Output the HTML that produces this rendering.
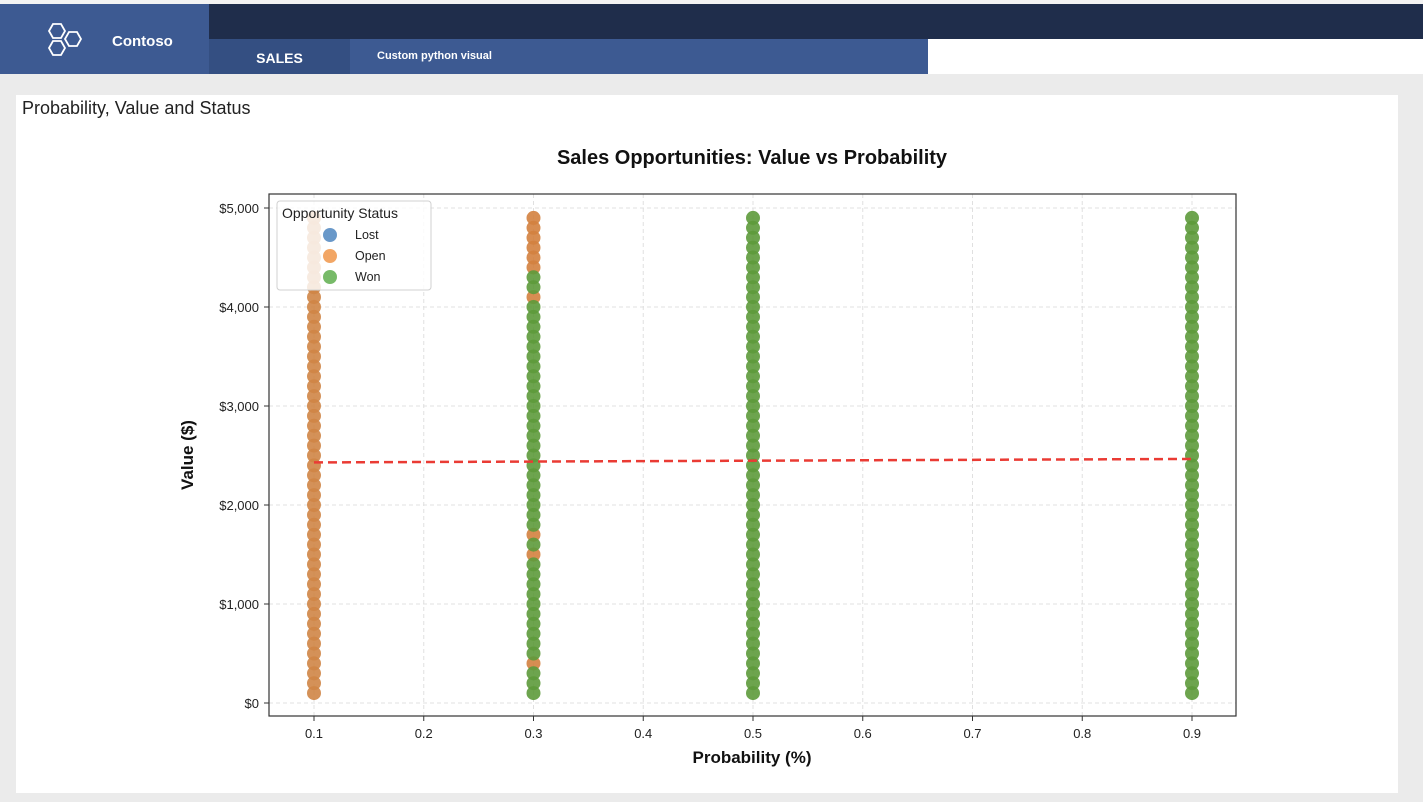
<!DOCTYPE html>
<html><head><meta charset="utf-8">
<style>
body{margin:0;width:1423px;height:802px;background:#ebebeb;font-family:"Liberation Sans",sans-serif;position:relative;overflow:hidden}
.abs{position:absolute}
</style></head><body>
<div class="abs" style="left:0;top:0;width:1423px;height:4px;background:#f3f3f3"></div>
<div class="abs" style="left:0;top:4px;width:209px;height:70px;background:#3d5a92">
 <svg class="abs" style="left:47px;top:18px" width="40" height="38">
  <g fill="none" stroke="#fff" stroke-width="1.8">
   <polygon points="6,2 14,2 18,9 14,16 6,16 2,9"/>
   <polygon points="22,10 30,10 34,17 30,24 22,24 18,17"/>
   <polygon points="6,19 14,19 18,26 14,33 6,33 2,26"/>
  </g></svg>
 <div class="abs" style="left:112px;top:29px;color:#fff;font-weight:bold;font-size:15px">Contoso</div>
</div>
<div class="abs" style="left:209px;top:4px;width:1214px;height:35px;background:#1f2d4b"></div>
<div class="abs" style="left:209px;top:39px;width:141px;height:35px;background:#344f82;color:#fff;font-weight:bold;font-size:14px;text-align:center;line-height:38px">SALES</div>
<div class="abs" style="left:350px;top:39px;width:578px;height:35px;background:#3d5a92;color:#fff;font-weight:bold;font-size:11px;line-height:34px;padding-left:27px;box-sizing:border-box">Custom python visual</div>
<div class="abs" style="left:928px;top:39px;width:495px;height:35px;background:#fff"></div>
<div class="abs" style="left:16px;top:95px;width:1382px;height:698px;background:#fff"></div>
<div class="abs" style="left:22px;top:98px;font-size:18px;color:#222">Probability, Value and Status</div>
<svg id="chart" class="abs" style="left:0;top:0" width="1423" height="802"></svg>
<script>
const xTicks=[0.1,0.2,0.3,0.4,0.5,0.6,0.7,0.8,0.9];
const yTicks=[0,1000,2000,3000,4000,5000];
const yTickLabels=["$0","$1,000","$2,000","$3,000","$4,000","$5,000"];
const col01Open=[100,200,300,400,500,600,700,800,900,1000,1100,1200,1300,1400,1500,1600,1700,1800,1900,2000,2100,2200,2300,2400,2500,2600,2700,2800,2900,3000,3100,3200,3300,3400,3500,3600,3700,3800,3900,4000,4100,4200,4300,4400,4500,4600,4700,4800,4900];
const col03Open=[400,1500,1700,4100,4400,4500,4600,4700,4800,4900];
const col03Won=[100,200,300,500,600,700,800,900,1000,1100,1200,1300,1400,1600,1800,1900,2000,2100,2200,2300,2400,2500,2600,2700,2800,2900,3000,3100,3200,3300,3400,3500,3600,3700,3800,3900,4000,4200,4300];
const col05Won=[100,200,300,400,500,600,700,800,900,1000,1100,1200,1300,1400,1500,1600,1700,1800,1900,2000,2100,2200,2300,2400,2500,2600,2700,2800,2900,3000,3100,3200,3300,3400,3500,3600,3700,3800,3900,4000,4100,4200,4300,4400,4500,4600,4700,4800,4900];
const col09Won=[100,200,300,400,500,600,700,800,900,1000,1100,1200,1300,1400,1500,1600,1700,1800,1900,2000,2100,2200,2300,2400,2500,2600,2700,2800,2900,3000,3100,3200,3300,3400,3500,3600,3700,3800,3900,4000,4100,4200,4300,4400,4500,4600,4700,4800,4900];
const trendX=[0.1,0.9];
const trendY=[2430,2465];
const NS="http://www.w3.org/2000/svg";
const svg=document.getElementById('chart');
const L=269,R=1236,T=194,B=716;
const sx=v=>314+(v-0.1)*(1192-314)/0.8;
const sy=v=>703-v*(703-208)/5000;
function mk(t,a){const e=document.createElementNS(NS,t);for(const k in a)e.setAttribute(k,a[k]);svg.appendChild(e);return e;}
function txt(x,y,s,a){const e=mk('text',Object.assign({x:x,y:y,'font-family':'"Liberation Sans",sans-serif'},a));e.textContent=s;return e;}
xTicks.forEach(v=>{const g=mk('line',{x1:sx(v),x2:sx(v),y1:T,y2:B,stroke:'#e0e0e0','stroke-dasharray':'4,3'});});
yTicks.forEach(v=>{const g=mk('line',{x1:L,x2:R,y1:sy(v),y2:sy(v),stroke:'#e0e0e0','stroke-dasharray':'4,3'});});
function dots(prob,vals,color,name){vals.forEach(v=>{const c=mk('circle',{cx:sx(prob),cy:sy(v),r:7,fill:color,'fill-opacity':0.9});

});}
dots(0.1,col01Open,'#cf8546','open-point');
dots(0.3,col03Open,'#d3813f','open-point');
dots(0.3,col03Won,'#5d9a3b','won-point');
dots(0.5,col05Won,'#5d9a3b','won-point');
dots(0.9,col09Won,'#5d9a3b','won-point');
const tl=mk('line',{x1:sx(trendX[0]),y1:sy(trendY[0]),x2:sx(trendX[1]),y2:sy(trendY[1]),stroke:'#ea3b34','stroke-width':2.5,'stroke-dasharray':'9,5'});


const fr=mk('rect',{x:L,y:T,width:R-L,height:B-T,fill:'none',stroke:'#333','stroke-width':1.2});


xTicks.forEach(v=>{mk('line',{x1:sx(v),x2:sx(v),y1:B,y2:B+5,stroke:'#333'});const t=txt(sx(v),738,v.toFixed(1),{'font-size':13,'text-anchor':'middle',fill:'#222'});

});
yTicks.forEach((v,i)=>{mk('line',{x1:L-5,x2:L,y1:sy(v),y2:sy(v),stroke:'#333'});const t=txt(259,sy(v)+5,yTickLabels[i],{'font-size':13,'text-anchor':'end',fill:'#222'});

});
const tt=txt(752,164,'Sales Opportunities: Value vs Probability',{'font-size':20,'font-weight':'bold','text-anchor':'middle',fill:'#111'});


const xt=txt(752,763,'Probability (%)',{'font-size':17,'font-weight':'bold','text-anchor':'middle',fill:'#111'});


const yt=txt(0,0,'Value ($)',{'font-size':17,'font-weight':'bold','text-anchor':'middle',fill:'#111',transform:'translate(193,455) rotate(-90)'});


const lg=mk('rect',{x:277,y:201,width:154,height:89,rx:3,fill:'#fff','fill-opacity':0.82,stroke:'#d0d0d0'});


const lt=txt(282,218,'Opportunity Status',{'font-size':14,fill:'#222'});


[['Lost','#4f86c0'],['Open','#f0974a'],['Won','#5fae4d']].forEach((e,i)=>{const y=235+i*21;
const c=mk('circle',{cx:330,cy:y,r:7,fill:e[1],'fill-opacity':0.85});


const t=txt(355,y+4,e[0],{'font-size':12.5,fill:'#222'});

});
</script>
</body></html>
